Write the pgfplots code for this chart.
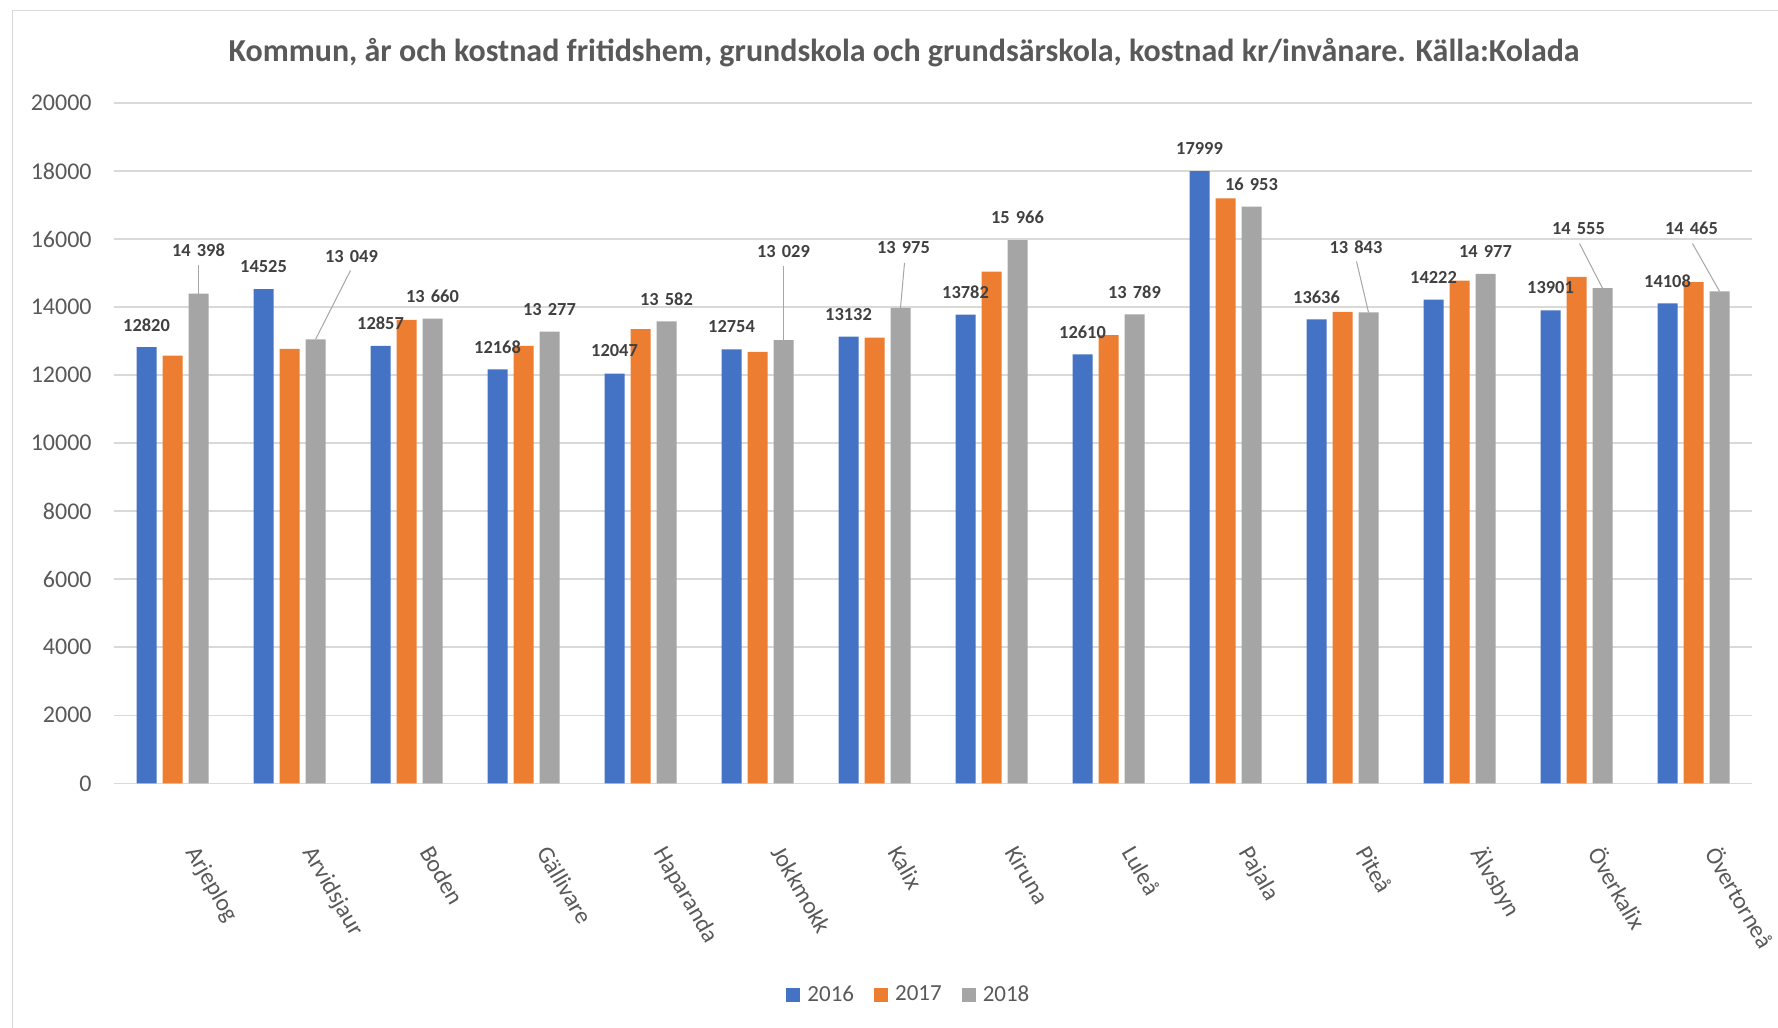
\documentclass[border=0pt]{standalone}
\usepackage{pgfplots}
\pgfplotsset{compat=1.18}
\usepackage{pgfplotstable}
\usepackage{fontspec}
\setmainfont{Carlito}
\definecolor{cblue}{HTML}{4472C4}
\definecolor{corange}{HTML}{ED7D31}
\definecolor{cgray}{HTML}{A5A5A5}
\definecolor{gridc}{HTML}{D9D9D9}
\definecolor{tickc}{HTML}{595959}
\definecolor{labc}{HTML}{404040}
\definecolor{leadc}{HTML}{A6A6A6}

% 2016
\pgfplotstableread{
x y
0 12820
1 14525
2 12857
3 12168
4 12047
5 12754
6 13132
7 13782
8 12610
9 17999
10 13636
11 14222
12 13901
13 14108
}\dataA
% 2017
\pgfplotstableread{
x y
0 12570
1 12775
2 13625
3 12860
4 13355
5 12685
6 13105
7 15040
8 13175
9 17195
10 13860
11 14775
12 14890
13 14735
}\dataB
% 2018 (dx, dy: label offset in pt from bar top)
\pgfplotstableread{
x y dx dy
0 14398 0 21.7
1 13049 18 41.7
2 13660 0 11.25
3 13277 0 11.25
4 13582 0 11.25
5 13029 0 44.2
6 13975 1.5 30
7 15966 0 11.25
8 13789 0 11.25
9 16953 0 11.25
10 13843 -6.25 32.8
11 14977 0 11.25
12 14555 -12 30
13 14465 -14 31.3
}\dataC

\begin{document}
\begin{tikzpicture}
\useasboundingbox (0pt,0pt) rectangle (889pt,514pt);
\draw[gridc, line width=0.75pt] (6.3pt,0pt) -- (6.3pt,508.65pt) -- (889pt,508.65pt);
\node[anchor=base, inner sep=0pt, text=tickc, font=\fontsize{16}{19}\selectfont\bfseries] at (452pt,483pt)
  {Kommun, år och kostnad fritidshem, grundskola och grundsärskola, kostnad kr/invånare. Källa:Kolada};
\begin{axis}[
  at={(57pt,122.35pt)}, anchor=south west,
  scale only axis, width=819pt, height=340.15pt,
  xmin=-0.5, xmax=13.5, ymin=0, ymax=20000,
  ybar=3pt, bar width=10pt,
  xtick={0,...,13},
  xticklabels={Arjeplog,Arvidsjaur,Boden,Gällivare,Haparanda,Jokkmokk,Kalix,Kiruna,Luleå,Pajala,Piteå,Älvsbyn,Överkalix,Övertorneå},
  ytick={0,2000,...,20000},
  axis x line*=bottom, axis y line*=left,
  y axis line style={draw=none},
  x axis line style={draw=gridc, line width=0.75pt},
  ymajorgrids, grid style={gridc, line width=0.75pt},
  major tick length=0pt, tick style={draw=none},
  scaled y ticks=false,
  /pgf/number format/assume math mode=true,
  /pgf/number format/1000 sep={},
  yticklabel style={font=\fontsize{12}{14}\selectfont, text=tickc, anchor=east, inner sep=0pt, xshift=-11pt},
  xticklabel style={font=\fontsize{12}{14}\selectfont, text=tickc, inner sep=0pt, xshift=13.75pt, yshift=-30pt, rotate=-60, anchor=north west},
  legend columns=3,
  legend style={at={(rel axis cs:0.4847,-0.3112)}, anchor=center, draw=none, fill=none,
    font=\fontsize{11.5}{13}\selectfont, text=tickc, nodes={inner sep=0pt},
    /tikz/every odd column/.append style={column sep=3.5pt},
    /tikz/every even column/.append style={column sep=10pt}},
]
\addplot[fill=cblue, draw=none,
  legend image code/.code={\fill[cblue] (0pt,-3.5pt) rectangle (7pt,3.5pt);},
  nodes near coords,
  nodes near coords style={anchor=center, yshift=11.25pt, inner sep=0pt, text=labc, font=\fontsize{9.2}{10}\selectfont\bfseries}]
  table[x=x,y=y] {\dataA};
\addplot[fill=corange, draw=none,
  legend image code/.code={\fill[corange] (0pt,-3.5pt) rectangle (7pt,3.5pt);}]
  table[x=x,y=y] {\dataB};
\addplot[fill=cgray, draw=none,
  legend image code/.code={\fill[cgray] (0pt,-3.5pt) rectangle (7pt,3.5pt);},
  visualization depends on=\thisrow{dx}\as\dx,
  visualization depends on=\thisrow{dy}\as\dy,
  nodes near coords={\pgfmathprintnumber[1000 sep={\kern0.33em}]{\pgfplotspointmeta}},
  nodes near coords style={anchor=center, xshift=\dx pt, yshift=\dy pt, inner sep=0pt, text=labc, font=\fontsize{9.2}{10}\selectfont\bfseries}]
  table[x=x,y=y] {\dataC};
\legend{2016,2017,2018}
% leader lines for displaced 2018 labels
\draw[leadc, line width=0.5pt] ([xshift=13pt]axis cs:0,14398) -- ([xshift=13pt,yshift=14.45pt]axis cs:0,14398);
\draw[leadc, line width=0.5pt] ([xshift=13pt]axis cs:1,13049) -- ([xshift=30.5pt,yshift=34.5pt]axis cs:1,13049);
\draw[leadc, line width=0.5pt] ([xshift=13pt]axis cs:5,13029) -- ([xshift=13pt,yshift=36.95pt]axis cs:5,13029);
\draw[leadc, line width=0.5pt] ([xshift=13pt]axis cs:6,13975) -- ([xshift=15pt,yshift=22.5pt]axis cs:6,13975);
\draw[leadc, line width=0.5pt] ([xshift=13pt]axis cs:10,13843) -- ([xshift=7pt,yshift=25.5pt]axis cs:10,13843);
\draw[leadc, line width=0.5pt] ([xshift=13pt]axis cs:12,14555) -- ([xshift=1.5pt,yshift=22.35pt]axis cs:12,14555);
\draw[leadc, line width=0.5pt] ([xshift=13pt]axis cs:13,14465) -- ([xshift=-0.5pt,yshift=23.85pt]axis cs:13,14465);
\end{axis}
\end{tikzpicture}
\end{document}
